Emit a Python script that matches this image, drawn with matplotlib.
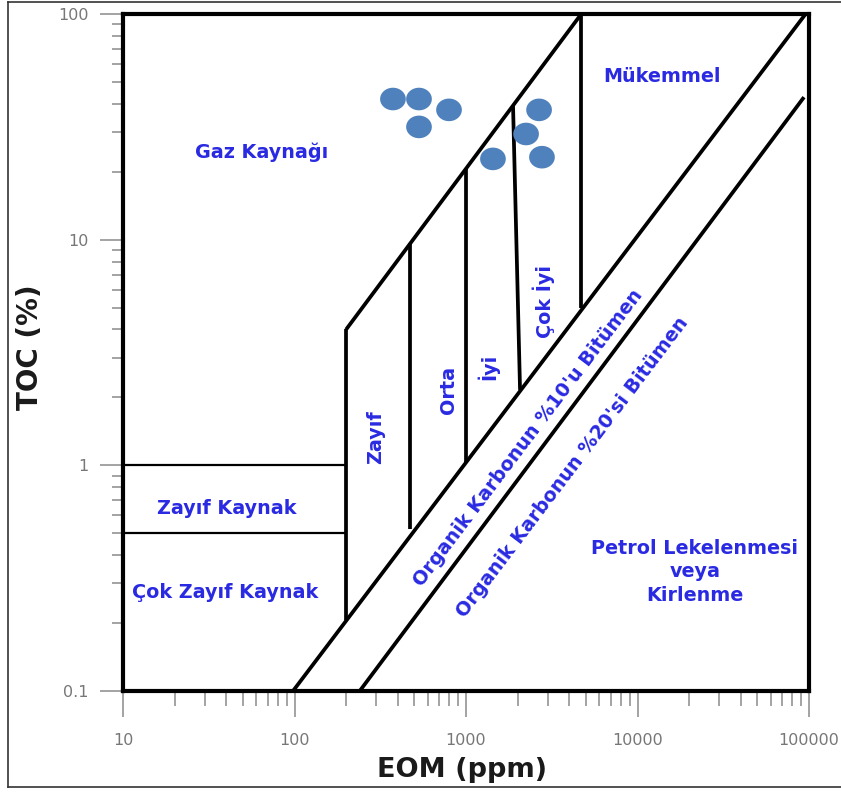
import numpy as np
import matplotlib
matplotlib.use("Agg")
import matplotlib.pyplot as plt
from matplotlib.path import Path
from matplotlib.lines import Line2D

# ---------------- data ----------------
eom_samples = [375, 532, 532, 796, 1436, 2240, 2667, 2773]
toc_samples = [42.0, 42.0, 31.6, 37.6, 22.8, 29.4, 37.6, 23.2]

upper_eom = [200, 4700]
upper_toc = [4.0, 100.0]
bitumen10_eom = [98, 95500]
bitumen10_toc = [0.1, 100.0]
bitumen20_eom = [240, 93500]
bitumen20_toc = [0.1, 42.8]

zayif_left_eom = [200, 200]
zayif_left_toc = [0.206, 4.0]
zayif_orta_eom = [474, 474]
zayif_orta_toc = [0.52, 9.7]
orta_iyi_eom = [1000, 1000]
orta_iyi_toc = [1.03, 20.5]
iyi_cokiyi_eom = [1880, 2066]
iyi_cokiyi_toc = [39.5, 2.16]
mukemmel_eom = [4700, 4700]
mukemmel_toc = [5.0, 100.0]

h1_eom = [10, 200]
h1_toc = [1.0, 1.0]
h05_eom = [10, 200]
h05_toc = [0.5, 0.5]

x_ticks = [10, 100, 1000, 10000, 100000]
x_ticklabels = ["10", "100", "1000", "10000", "100000"]
y_ticks = [0.1, 1, 10, 100]
y_ticklabels = ["0.1", "1", "10", "100"]

# ---------------- figure ----------------
W, H = 841, 793
fig = plt.figure(figsize=(W / 100, H / 100), dpi=100)
fig.patch.set_facecolor("white")
ax = fig.add_axes([123 / W, (H - 691) / H, (809 - 123) / W, (691 - 14) / H])
ax.set_xscale("log")
ax.set_yscale("log")
ax.set_xlim(10, 100000)
ax.set_ylim(0.1, 100)

BLUE = "#2a2ae2"
GRAY = "#8a8a8a"
LW = 2.7

for s in ax.spines.values():
    s.set_linewidth(3.0)
    s.set_color("black")

for xs, ys, lw in [
    (upper_eom, upper_toc, LW),
    (bitumen10_eom, bitumen10_toc, LW),
    (bitumen20_eom, bitumen20_toc, LW),
    (zayif_left_eom, zayif_left_toc, LW),
    (zayif_orta_eom, zayif_orta_toc, LW),
    (orta_iyi_eom, orta_iyi_toc, LW),
    (iyi_cokiyi_eom, iyi_cokiyi_toc, LW),
    (mukemmel_eom, mukemmel_toc, LW),
    (h1_eom, h1_toc, 1.6),
    (h05_eom, h05_toc, 1.6),
]:
    ax.plot(xs, ys, color="black", lw=lw, solid_capstyle="butt", zorder=3)

# elliptical marker
t = np.linspace(0, 2 * np.pi, 60)
ell = Path(np.column_stack([np.cos(t), 0.88 * np.sin(t)]), closed=True)
ax.scatter(eom_samples, toc_samples, s=18.5 ** 2, marker=ell, color="#4f81bd",
           edgecolors="none", zorder=4)

# ticks
ax.set_xticks(x_ticks)
ax.set_xticklabels(x_ticklabels)
ax.set_yticks(y_ticks)
ax.set_yticklabels(y_ticklabels)
ax.xaxis.set_minor_locator(matplotlib.ticker.LogLocator(base=10, subs=np.arange(2, 10)))
ax.yaxis.set_minor_locator(matplotlib.ticker.LogLocator(base=10, subs=np.arange(2, 10)))
ax.xaxis.set_minor_formatter(matplotlib.ticker.NullFormatter())
ax.yaxis.set_minor_formatter(matplotlib.ticker.NullFormatter())
ax.tick_params(axis="x", which="major", direction="out", length=18.5, width=1.1,
               color=GRAY, labelcolor="#777777", labelsize=11.5, pad=12)
ax.tick_params(axis="x", which="minor", direction="out", length=11, width=1.1, color=GRAY)
ax.tick_params(axis="y", which="major", direction="out", length=16.5, width=1.1,
               color=GRAY, labelcolor="#777777", labelsize=11.5, pad=8.5)
ax.tick_params(axis="y", which="minor", direction="out", length=8, width=1.1, color=GRAY)
for lab in ax.get_xticklabels() + ax.get_yticklabels():
    lab.set_family("DejaVu Sans")

# axis titles
fig.text(462 / W, 1 - 770 / H, "EOM (ppm)", ha="center", va="center",
         fontsize=19.5, fontweight="bold", family="DejaVu Sans", color="#1a1a1a")
fig.text(30 / W, 1 - 347 / H, "TOC (%)", ha="center", va="center", rotation=90,
         fontsize=20, fontweight="bold", family="DejaVu Sans", color="#1a1a1a")

# region labels
kw = dict(color=BLUE, fontsize=13.8, fontweight="bold", family="DejaVu Sans",
          ha="center", va="center", zorder=5)
ax.text(64, 24.5, "Gaz Kaynağı", **kw)
ax.text(13870, 52.6, "Mükemmel", **kw)
ax.text(40, 0.647, "Zayıf Kaynak", **kw)
ax.text(39.5, 0.272, "Çok Zayıf Kaynak", **kw)
ax.text(296, 1.34, "Zayıf", rotation=90, **kw)
ax.text(791, 2.16, "Orta", rotation=90, **kw)
ax.text(1336, 2.73, "İyi", rotation=90, **kw)
ax.text(2836, 5.3, "Çok İyi", rotation=90, **kw)
ax.text(21570, 0.337, "Petrol Lekelenmesi\nveya\nKirlenme", linespacing=1.3, **kw)

fig.canvas.draw()
p0 = ax.transData.transform((bitumen10_eom[0], bitumen10_toc[0]))
p1 = ax.transData.transform((bitumen10_eom[1], bitumen10_toc[1]))
ang = np.degrees(np.arctan2(p1[1] - p0[1], p1[0] - p0[0]))
ax.text(2317, 1.32, "Organik Karbonun %10'u Bitümen", rotation=ang,
        rotation_mode="anchor", **kw)
ax.text(4188, 0.984, "Organik Karbonun %20'si Bitümen", rotation=ang,
        rotation_mode="anchor", **kw)

# outer frame of the picture
fc = "#333333"
fig.add_artist(Line2D([8 / W, 8 / W], [1 - 2 / H, 1 - 787 / H], transform=fig.transFigure, color=fc, lw=1.2))
fig.add_artist(Line2D([8 / W, 1.0], [1 - 787 / H, 1 - 787 / H], transform=fig.transFigure, color=fc, lw=1.2))
fig.add_artist(Line2D([8 / W, 1.0], [1 - 2 / H, 1 - 2 / H], transform=fig.transFigure, color=fc, lw=1.2))

fig.savefig("out.png", dpi=100)
